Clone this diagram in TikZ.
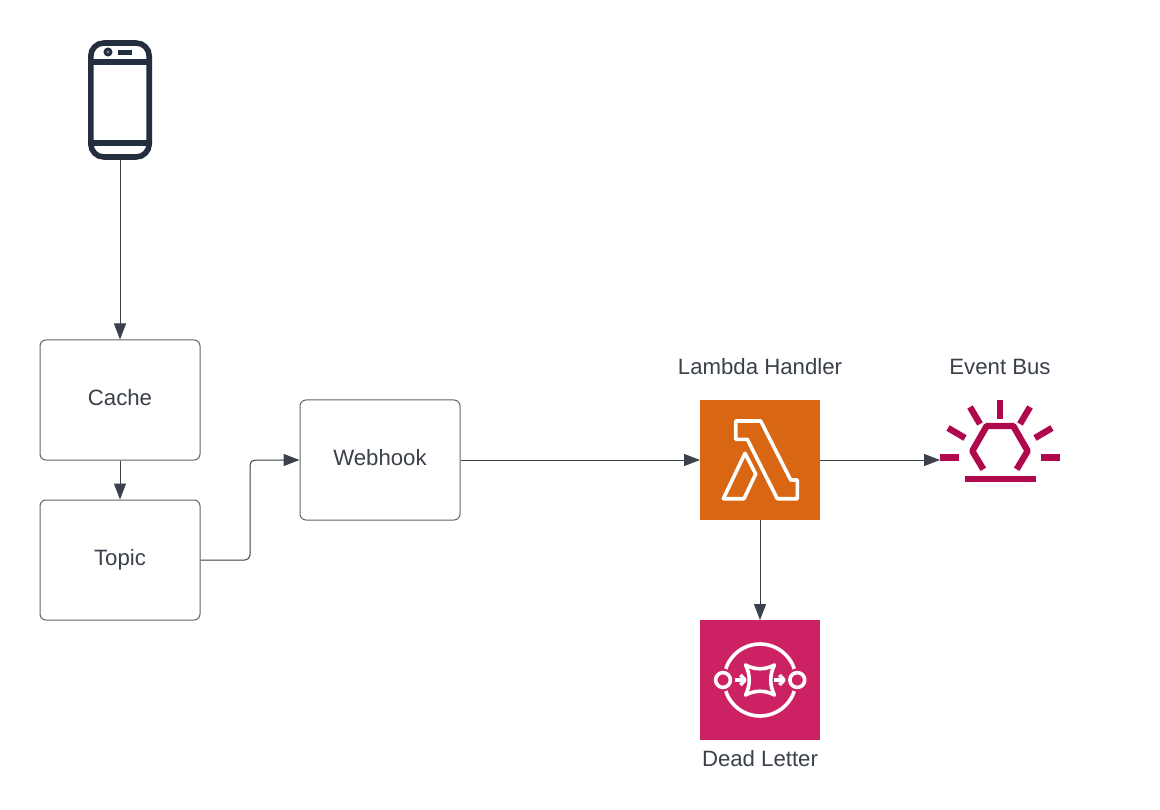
\documentclass[tikz,border=0pt]{standalone}
\usepackage{fontspec}
\setmainfont{Liberation Sans}
\usetikzlibrary{arrows.meta}
\definecolor{inkdark}{HTML}{3A414A}
\definecolor{boxline}{HTML}{5F6670}
\definecolor{phonedark}{HTML}{232F3E}
\definecolor{lambdaorange}{HTML}{D86613}
\definecolor{letterpink}{HTML}{CC2264}
\definecolor{busred}{HTML}{B0084D}
\tikzset{
  procbox/.style={draw=boxline,line width=1pt,rounded corners=6pt,minimum width=160pt,minimum height=120pt,text=inkdark,text height=15.9pt,text depth=4.7pt,font=\fontsize{22.2}{26}\selectfont},
  iconbox/.style={minimum width=120pt,minimum height=120pt,inner sep=0pt,outer sep=0pt},
  caption/.style={text=inkdark,font=\fontsize{22.2}{26}\selectfont},
  link/.style={draw=inkdark,line width=1pt,-{Triangle[length=16pt,width=12pt]}},
  whiteline/.style={draw=white,line width=3.6pt,line join=round},
  busline/.style={draw=busred,line width=6.4pt}
}
\begin{document}
\begin{tikzpicture}[x=1pt,y=-1pt]
\fill[white] (0,0) rectangle (1160,810);
\useasboundingbox (0,0) rectangle (1160,810);

\node[draw=phonedark,line width=5.6pt,rounded corners=13pt,minimum width=58.4pt,minimum height=114pt,inner sep=0pt] (phone) at (120,100) {};
\draw[phonedark,line width=5.6pt] (90,62) -- (150,62);
\draw[phonedark,line width=5.6pt] (90,143) -- (150,143);
\draw[phonedark,line width=2.8pt,fill=phonedark!60] (108,52) circle (3pt);
\fill[phonedark] (118,49.8) rectangle (132,54.6);

\node[procbox] (cache) at (120,400) {Cache};
\node[procbox] (topic) at (120,560) {Topic};
\node[procbox] (webhook) at (380,460) {Webhook};
\node[iconbox,fill=lambdaorange] (lambda) at (760,460) {};
\node[iconbox,fill=letterpink] (letter) at (760,680) {};
\node[iconbox] (bus) at (1000,460) {};
\coordinate (bend) at (250,510);

\node[caption] (lambdalabel) at (760,367) {Lambda Handler};
\node[caption] (buslabel) at (1000,367) {Event Bus};
\node[caption] (letterlabel) at (760,759) {Dead Letter};

\draw[whiteline] (735.7,421) -- (760.7,421) -- (790.7,480) -- (797.3,480) -- (797.3,498.7) -- (777.3,498.7) -- (747.3,439.3) -- (735.7,439.3) -- cycle;
\draw[whiteline] (745,453.3) -- (755.7,474) -- (744,498.7) -- (723.3,498.7) -- cycle;

\draw[whiteline] (725.8,668.9) arc[start angle=198,end angle=342,radius=36,y=-1pt];
\draw[whiteline] (725.8,691.1) arc[start angle=162,end angle=18,radius=36,y=-1pt];
\draw[whiteline] (723,680) circle (7.4pt);
\draw[whiteline] (797.3,680) circle (7.4pt);
\draw[whiteline] (745.5,665) .. controls (755,670) and (765,670) .. (774.5,665) .. controls (769.5,674.5) and (769.5,685.5) .. (774.5,695) .. controls (765,690) and (755,690) .. (745.5,695) .. controls (750.5,685.5) and (750.5,674.5) .. (745.5,665) -- cycle;
\draw[whiteline] (735,680) -- (745,680);
\draw[whiteline] (740.5,675) -- (745,680) -- (740.5,685);
\draw[whiteline] (773.5,680) -- (784,680);
\draw[whiteline] (779.5,675) -- (784,680) -- (779.5,685);

\draw[busline] (1000,400) -- (1000,419);
\draw[busline] (970,407) -- (980,424);
\draw[busline] (1030,407) -- (1020,424);
\draw[busline] (948,428) -- (965,438);
\draw[busline] (1052,428) -- (1035,438);
\draw[busline] (940,457.3) -- (959,457.3);
\draw[busline] (1041,457.3) -- (1060,457.3);
\draw[busline] (964.5,479) -- (1035.5,479);
\draw[busline,line join=round] (983.3,469.3) -- (972.3,451) -- (986.7,426) -- (1013.3,426) -- (1027.7,451) -- (1016.7,469.3);

\draw[link] (phone.south) -- (cache.north);
\draw[link] (cache.south) -- (topic.north);
\draw[link,rounded corners=5pt] (topic.east) -| (bend) |- (webhook.west);
\draw[link] (webhook.east) -- (lambda.west);
\draw[link] (lambda.east) -- (bus.west);
\draw[link] (lambda.south) -- (letter.north);
\end{tikzpicture}
\end{document}
